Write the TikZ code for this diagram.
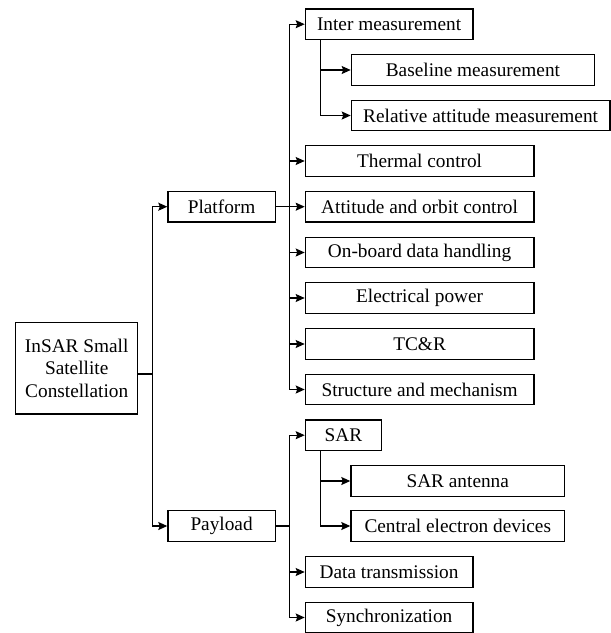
\documentclass[tikz,border=0pt]{standalone}
\usepackage{fontspec}
\setmainfont{Liberation Serif}
\usetikzlibrary{arrows.meta}
\begin{document}
\begin{tikzpicture}[x=1pt,y=1pt,
  box/.style={draw, line width=1.2pt, inner sep=0pt, minimum height=30.5pt,
    font=\fontsize{19.3}{22.5}\selectfont, anchor=west},
  conn/.style={line width=1.2pt},
  arr/.style={conn, -{Stealth[length=9pt,width=8pt,inset=1.5pt]}}]
\useasboundingbox (0,0) rectangle (611,-633);
% root
\node[box, anchor=center, minimum width=122pt, minimum height=91.7pt, align=center] (root)
  at (76.7,-368.2) {InSAR Small\\Satellite\\Constellation};
% level 1
\node[box, minimum width=107.4pt] (plat) at (167.3,-206.7) {Platform};
\node[box, minimum width=107.4pt] (pay) at (167.3,-526) {Payload};
% platform children
\node[box, minimum width=167.6pt] (inter) at (304.7,-24.2) {Inter measurement};
\node[box, minimum width=243.3pt] (base) at (350.7,-70) {Baseline measurement};
\node[box, minimum width=258.6pt] (rel) at (350.7,-115.5) {Relative attitude measurement};
\node[box, minimum width=228.6pt] (therm) at (304.7,-161) {Thermal control};
\node[box, minimum width=228.6pt] (att) at (304.7,-206.7) {Attitude and orbit control};
\node[box, minimum width=228.6pt] (obdh) at (304.7,-252.5) {On-board data handling};
\node[box, minimum width=228.6pt] (power) at (304.7,-298) {Electrical power};
\node[box, minimum width=228.6pt] (tcr) at (304.7,-344) {TC\&R};
\node[box, minimum width=228.6pt] (struct) at (304.7,-389.5) {Structure and mechanism};
% payload children
\node[box, minimum width=76.3pt] (sar) at (304.7,-435.2) {SAR};
\node[box, minimum width=213.7pt] (ant) at (350.3,-481) {SAR antenna};
\node[box, minimum width=213.7pt] (ced) at (350.3,-526) {Central electron devices};
\node[box, minimum width=167.6pt] (data) at (304.7,-572) {Data transmission};
\node[box, minimum width=167.6pt] (sync) at (304.7,-617.5) {Synchronization};
% junctions
\coordinate (j0) at (152.7,-374);
\coordinate (j1) at (289.7,-206.7);
\coordinate (j2) at (289.7,-526);
\coordinate (ji) at (320.3,-24.2);
\coordinate (js) at (320.3,-435.2);
% root to level 1
\draw[conn] (root.east |- j0) -- (j0);
\draw[arr] (j0) |- (plat.west);
\draw[arr] (j0) |- (pay.west);
% platform
\draw[arr] (plat.east) -- (att.west);
\draw[arr] (j1) |- (inter.west);
\draw[arr] (j1) |- (therm.west);
\draw[arr] (j1) |- (obdh.west);
\draw[arr] (j1) |- (power.west);
\draw[arr] (j1) |- (tcr.west);
\draw[arr] (j1) |- (struct.west);
\draw[arr] (inter.south -| ji) |- (base.west);
\draw[arr] (inter.south -| ji) |- (rel.west);
% payload
\draw[conn] (pay.east) -- (j2);
\draw[arr] (j2) |- (sar.west);
\draw[arr] (j2) |- (data.west);
\draw[arr] (j2) |- (sync.west);
\draw[arr] (sar.south -| js) |- (ant.west);
\draw[arr] (sar.south -| js) |- (ced.west);
\end{tikzpicture}
\end{document}
